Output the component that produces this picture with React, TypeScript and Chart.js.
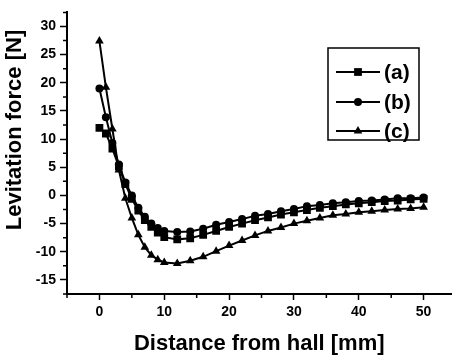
import React, { useEffect, useRef } from "react";
import { Chart, registerables } from "chart.js";

Chart.register(...registerables);

const distances = [0, 1, 2, 3, 4, 5, 6, 7, 8, 9, 10, 12, 14, 16, 18, 20, 22, 24, 26, 28, 30, 32, 34, 36, 38, 40, 42, 44, 46, 48, 50];
const seriesA = [12, 11, 8.3, 5.1, 2.0, -0.6, -2.7, -4.4, -5.6, -6.6, -7.4, -7.8, -7.6, -7.0, -6.3, -5.6, -5.0, -4.4, -3.9, -3.4, -3.0, -2.6, -2.2, -1.9, -1.6, -1.4, -1.2, -1.0, -0.9, -0.7, -0.6];
const seriesB = [19, 13.9, 9.3, 5.5, 2.3, 0, -2.2, -3.8, -5.0, -5.8, -6.3, -6.5, -6.4, -5.9, -5.2, -4.7, -4.2, -3.6, -3.3, -2.8, -2.4, -1.9, -1.7, -1.4, -1.2, -1.0, -0.9, -0.7, -0.5, -0.5, -0.35];
const seriesC = [27.4, 19.2, 11.8, 4.5, -0.5, -4.0, -7.0, -9.2, -10.6, -11.4, -11.9, -12.1, -11.6, -10.9, -9.9, -8.9, -8.0, -7.1, -6.3, -5.7, -5.0, -4.5, -4.0, -3.5, -3.3, -3.0, -2.8, -2.6, -2.4, -2.3, -2.1];
const seriesLabels = ["(a)", "(b)", "(c)"];
const xMajorTicks = [0, 10, 20, 30, 40, 50];
const xMinorTicks = [-5, 5, 15, 25, 35, 45];
const yMajorTicks = [-15, -10, -5, 0, 5, 10, 15, 20, 25, 30];
const yMinorTicks = [-17.5, -12.5, -7.5, -2.5, 2.5, 7.5, 12.5, 17.5, 22.5, 27.5, 32.5];
const xTitle = "Distance from hall [mm]";
const yTitle = "Levitation force [N]";

const FONT = "Arial, 'Liberation Sans', Helvetica, sans-serif";

function drawMarker(ctx: CanvasRenderingContext2D, style: string, x: number, y: number, r: number) {
  ctx.beginPath();
  if (style === "rect") {
    const s = Math.SQRT1_2 * r;
    ctx.rect(x - s, y - s, 2 * s, 2 * s);
  } else if (style === "circle") {
    ctx.arc(x, y, r, 0, Math.PI * 2);
  } else {
    for (let i = 0; i < 3; i++) {
      const a = (i * 2 * Math.PI) / 3;
      const px = x + Math.sin(a) * r;
      const py = y - Math.cos(a) * r;
      if (i === 0) ctx.moveTo(px, py);
      else ctx.lineTo(px, py);
    }
    ctx.closePath();
  }
  ctx.fill();
}

const extrasPlugin = {
  id: "extras",
  afterDraw(chart: any) {
    const ctx: CanvasRenderingContext2D = chart.ctx;
    const xs = chart.scales.x;
    const ys = chart.scales.y;
    const area = chart.chartArea;
    ctx.save();
    ctx.strokeStyle = "#000";
    ctx.lineWidth = 1.5;
    ctx.beginPath();
    xMinorTicks.forEach((v) => {
      const px = xs.getPixelForValue(v);
      if (px < area.left - 1 || px > area.right + 1) return;
      ctx.moveTo(px, area.bottom);
      ctx.lineTo(px, area.bottom + 4);
    });
    yMinorTicks.forEach((v) => {
      const py = ys.getPixelForValue(v);
      if (py < area.top - 1 || py > area.bottom + 1) return;
      ctx.moveTo(area.left, py);
      ctx.lineTo(area.left - 4, py);
    });
    ctx.stroke();

    ctx.fillStyle = "#000";
    ctx.font = `bold 22px ${FONT}`;
    ctx.textAlign = "center";
    ctx.textBaseline = "middle";
    ctx.translate(15, 130);
    ctx.rotate(-Math.PI / 2);
    ctx.fillText(yTitle, 0, 0);
    ctx.restore();

    ctx.save();
    const bx = 328, by = 48, bw = 91, bh = 92;
    ctx.strokeStyle = "#000";
    ctx.lineWidth = 1.5;
    ctx.strokeRect(bx, by, bw, bh);
    const rows = [72, 102, 131];
    chart.data.datasets.forEach((ds: any, i: number) => {
      const y = rows[i];
      ctx.strokeStyle = "#000";
      ctx.lineWidth = 2;
      ctx.beginPath();
      ctx.moveTo(336, y);
      ctx.lineTo(380, y);
      ctx.stroke();
      ctx.fillStyle = "#000";
      drawMarker(ctx, ds.pointStyle, 358, y, ds.pointRadius);
      ctx.font = `bold 21px ${FONT}`;
      ctx.textAlign = "left";
      ctx.textBaseline = "middle";
      ctx.fillText(ds.label, 384, y + 1);
    });
    ctx.restore();
  },
};

export default function App() {
  const canvasRef = useRef<HTMLCanvasElement | null>(null);

  useEffect(() => {
    if (!canvasRef.current) return;
    const mk = (ys: number[]) => distances.map((x, i) => ({ x, y: ys[i] }));
    const styles = ["rect", "circle", "triangle"];
    const radii = [5.5, 4, 5];
    const chart = new Chart(canvasRef.current, {
      type: "line",
      data: {
        datasets: [seriesA, seriesB, seriesC].map((s, i) => ({
          label: seriesLabels[i],
          data: mk(s),
          borderColor: "#000",
          backgroundColor: "#000",
          borderWidth: 2,
          pointStyle: styles[i],
          pointRadius: radii[i],
          pointBackgroundColor: "#000",
          pointBorderColor: "#000",
          pointBorderWidth: 0,
          tension: 0,
          fill: false,
        })),
      },
      options: {
        animation: false,
        responsive: false,
        maintainAspectRatio: false,
        layout: { padding: { left: 0, top: 5, right: 2, bottom: 0 } },
        plugins: {
          legend: { display: false },
          tooltip: { enabled: false },
        },
        scales: {
          x: {
            type: "linear",
            min: -5,
            max: 54.3,
            afterBuildTicks: (scale: any) => {
              scale.ticks = xMajorTicks.map((v) => ({ value: v }));
            },
            afterFit: (scale: any) => {
              scale.height = 64;
            },
            grid: {
              display: true,
              drawOnChartArea: false,
              drawTicks: true,
              tickLength: 6,
              tickColor: "#000",
              tickWidth: 1.5,
            },
            border: { display: true, color: "#000", width: 2 },
            ticks: {
              color: "#000",
              font: { family: FONT, size: 14, weight: "bold" },
              padding: 4,
              maxRotation: 0,
              callback: (v: any) => String(v),
            },
            title: {
              display: true,
              text: xTitle,
              color: "#000",
              font: { family: FONT, size: 22, weight: "bold", lineHeight: 1.2 },
              padding: { top: 0, bottom: 1 },
            },
          },
          y: {
            type: "linear",
            min: -17.5,
            max: 32.5,
            afterBuildTicks: (scale: any) => {
              scale.ticks = yMajorTicks.map((v) => ({ value: v }));
            },
            afterFit: (scale: any) => {
              scale.width = 67;
            },
            grid: {
              display: true,
              drawOnChartArea: false,
              drawTicks: true,
              tickLength: 7,
              tickColor: "#000",
              tickWidth: 1.5,
            },
            border: { display: true, color: "#000", width: 2 },
            ticks: {
              color: "#000",
              font: { family: FONT, size: 14, weight: "bold" },
              padding: 4,
              callback: (v: any) => String(v),
            },
          },
        },
      },
      plugins: [extrasPlugin],
    } as any);
    return () => chart.destroy();
  }, []);

  return (
    <div style={{ position: "fixed", left: 0, top: 0, width: 457, height: 358, background: "#fff" }}>
      <canvas ref={canvasRef} width={457} height={358} style={{ display: "block", width: 457, height: 358 }} />
    </div>
  );
}
